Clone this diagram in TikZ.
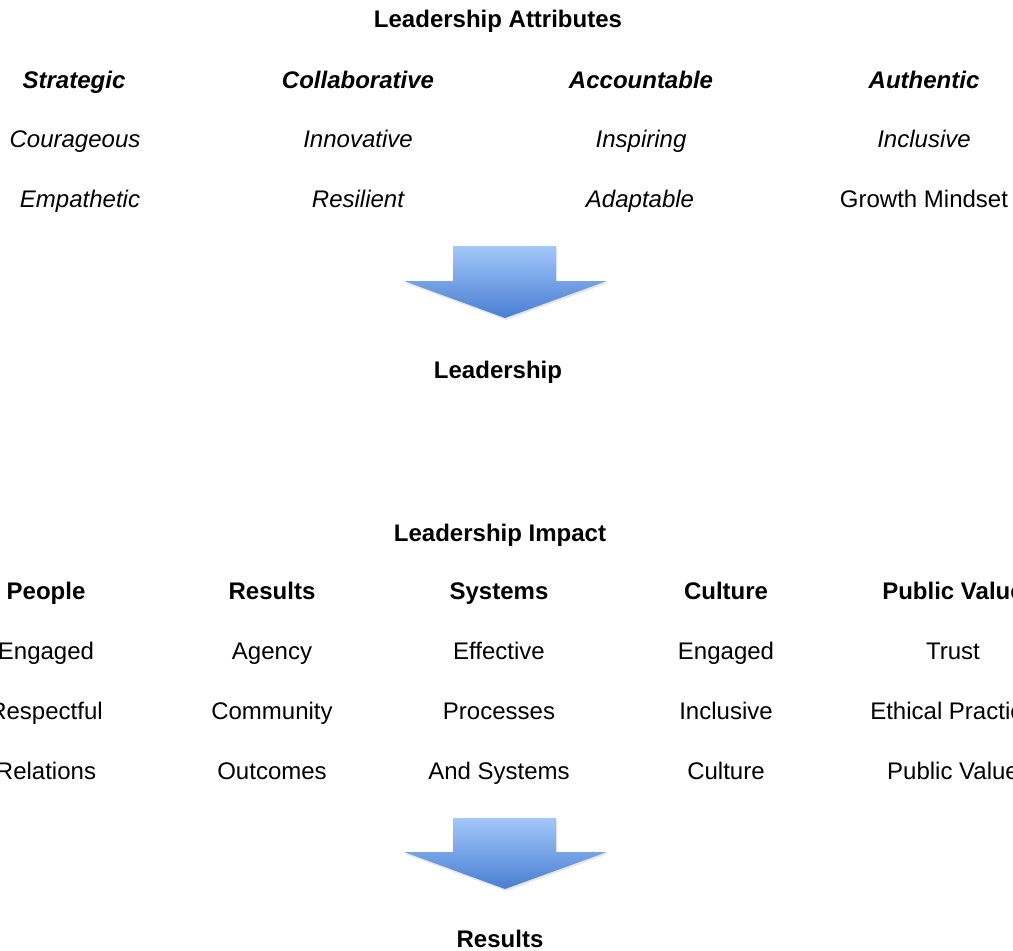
\documentclass[tikz,border=0pt]{standalone}
\usepackage{fontspec}
\setmainfont{Liberation Sans}
\usetikzlibrary{shadows}
\definecolor{arrowtop}{RGB}{163,199,250}
\definecolor{arrowbot}{RGB}{72,126,210}
\begin{document}
\begin{tikzpicture}[x=0.75pt,y=-0.75pt,
    every node/.style={font=\fontsize{18}{21.6}\selectfont, inner sep=0pt, anchor=base},
    title/.style={font=\fontsize{18}{21.6}\selectfont\bfseries},
    trait/.style={font=\fontsize{18}{21.6}\selectfont\itshape},
    keytrait/.style={font=\fontsize{18}{21.6}\selectfont\bfseries\itshape},
    bluearrow/.style={top color=arrowtop, bottom color=arrowbot,
        drop shadow={opacity=0.2, shadow xshift=0.8pt, shadow yshift=-1.5pt}}]
    \useasboundingbox (0,0) rectangle (1013,950);
    \clip (0,0) rectangle (1013,950);
    % attributes
    \node[title] (attr) at (498,27) {Leadership Attributes};
    \node[keytrait] (strategic) at (74,88) {Strategic};
    \node[keytrait] (collab) at (358,88) {Collaborative};
    \node[keytrait] (account) at (641,88) {Accountable};
    \node[keytrait] (authentic) at (924,88) {Authentic};
    \node[trait] (courage) at (75,147) {Courageous};
    \node[trait] (innov) at (358,147) {Innovative};
    \node[trait] (inspire) at (641,147) {Inspiring};
    \node[trait] (inclusive) at (924,147) {Inclusive};
    \node[trait] (empath) at (80,207) {Empathetic};
    \node[trait] (resil) at (358,207) {Resilient};
    \node[trait] (adapt) at (640,207) {Adaptable};
    \node (growth) at (924,207) {Growth Mindset};
    \path[bluearrow] (453,246) -- (556,246) -- (556,281) -- (607,281) -- (505,318)
        -- (404,281) -- (453,281) -- cycle;
    \node[title] (lead) at (498,378) {Leadership};
    % impact
    \node[title] (impact) at (500,541) {Leadership Impact};
    \node[title] (people) at (46,599) {People};
    \node[title] (results) at (272,599) {Results};
    \node[title] (systems) at (499,599) {Systems};
    \node[title] (culture) at (726,599) {Culture};
    \node[title] (public) at (953,599) {Public Value};
    \node (p1) at (46,659) {Engaged};
    \node (r1) at (272,659) {Agency};
    \node (s1) at (499,659) {Effective};
    \node (c1) at (726,659) {Engaged};
    \node (v1) at (953,659) {Trust};
    \node (p2) at (46,719) {Respectful};
    \node (r2) at (272,719) {Community};
    \node (s2) at (499,719) {Processes};
    \node (c2) at (726,719) {Inclusive};
    \node (v2) at (953,719) {Ethical Practice};
    \node (p3) at (46,779) {Relations};
    \node (r3) at (272,779) {Outcomes};
    \node (s3) at (499,779) {And Systems};
    \node (c3) at (726,779) {Culture};
    \node (v3) at (953,779) {Public Value};
    \path[bluearrow] (453,818) -- (556,818) -- (556,852) -- (607,852) -- (505,889)
        -- (404,852) -- (453,852) -- cycle;
    \node[title] (final) at (500,947) {Results};
\end{tikzpicture}
\end{document}
